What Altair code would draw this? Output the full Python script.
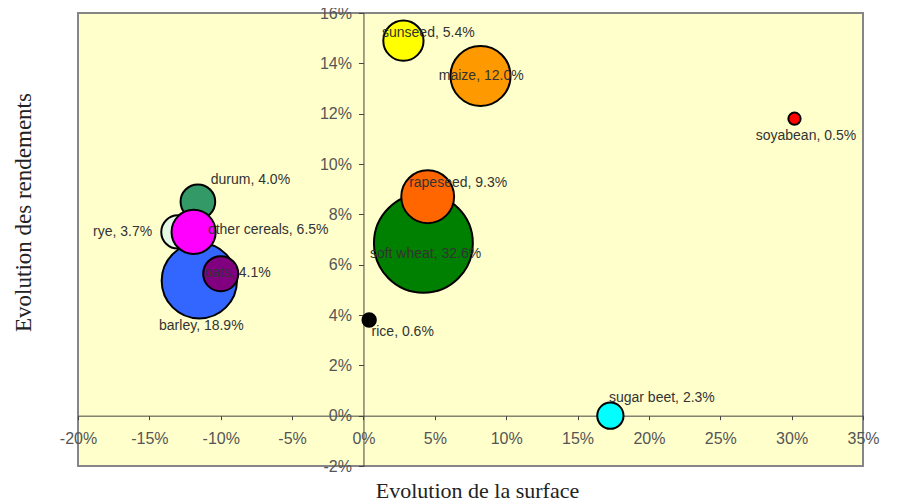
import altair as alt
import pandas as pd

# ---- data ----
crops = ["soft wheat", "rapeseed", "barley", "durum", "rye", "other cereals",
         "oats", "maize", "sunseed", "sugar beet", "rice", "soyabean"]
share = [32.6, 9.3, 18.9, 4.0, 3.7, 6.5, 4.1, 12.0, 5.4, 2.3, 0.6, 0.5]
surface = [4.2, 4.5, -11.5, -11.6, -13.0, -11.9, -10.0, 8.2, 2.8, 17.3, 0.4, 30.2]
yields = [6.85, 8.7, 5.36, 8.5, 7.3, 7.3, 5.64, 13.5, 14.9, 0.0, 3.8, 11.8]
colors = ["#008000", "#FF6600", "#3366FF", "#339966", "#E4F8E4", "#FF00FF",
          "#800080", "#FF9900", "#FFFF00", "#00FFFF", "#000000", "#FF0000"]

# label anchors (data units) and alignment
lab_x = [4.35, 3.2, -11.36, -10.7, -14.8, -10.9, -6.5, 8.25, 1.3, 17.2, 0.57, 31.0]
lab_y = [6.44, 9.25, 3.55, 9.36, 7.3, 7.36, 5.68, 13.5, 15.2, 0.7, 3.32, 11.1]
lab_align = ["center", "left", "center", "left", "right", "left", "right",
             "center", "left", "left", "left", "center"]

x_ticks = [-20, -15, -10, -5, 0, 5, 10, 15, 20, 25, 30, 35]
y_ticks = [-2, 0, 2, 4, 6, 8, 10, 12, 14, 16]

df = pd.DataFrame({
    "crop": crops, "share": share, "surface": surface, "yield": yields,
    "lx": lab_x, "ly": lab_y, "align": lab_align,
})
df["label"] = [f"{c}, {s:.1f}%" for c, s in zip(crops, share)]

W, H = 785, 453
XD = [-20, 35]
YD = [-2, 16]
x_zero = W * (0 - XD[0]) / (XD[1] - XD[0])
y_zero = H * (YD[1] - 0) / (YD[1] - YD[0])

xscale = alt.Scale(domain=XD, nice=False, zero=False)
yscale = alt.Scale(domain=YD, nice=False, zero=False)

lab_font = "Liberation Sans"

x_axis = alt.Axis(
    values=x_ticks, labelExpr="datum.value + '%'",
    orient="bottom", offset=-(H - y_zero), grid=False,
    domainColor="#444", tickColor="#444", tickSize=4, labelPadding=11,
    labelFont=lab_font, labelFontSize=16, labelColor="#555",
    labelOverlap=False, labelFlush=False,
    title="Evolution de la surface", titleFont="Liberation Serif",
    titleFontSize=22, titleFontWeight="normal", titleColor="#222",
    titleX=399, titleY=75, titleAlign="center", titleBaseline="middle",
    titleAnchor="start",
)
y_axis = alt.Axis(
    values=y_ticks, labelExpr="datum.value + '%'",
    orient="left", offset=-x_zero, grid=False,
    domainColor="#444", tickColor="#444", tickSize=5, labelPadding=7,
    labelFont=lab_font, labelFontSize=16, labelColor="#555",
    labelOverlap=False, labelFlush=False,
    title="Evolution des rendements", titleFont="Liberation Serif",
    titleFontSize=23, titleFontWeight="normal", titleColor="#222",
    titleX=23 - (78 + x_zero), titleY=199, titleAngle=270,
    titleAlign="center", titleBaseline="middle", titleAnchor="start",
)

base = alt.Chart(df)

bubbles = base.mark_circle(stroke="black", strokeWidth=2, opacity=1).encode(
    x=alt.X("surface:Q", scale=xscale, axis=x_axis),
    y=alt.Y("yield:Q", scale=yscale, axis=y_axis),
    size=alt.Size("share:Q", scale=alt.Scale(domain=[0, 35], range=[0, 300 * 35]),
                  legend=None),
    color=alt.Color("crop:N", scale=alt.Scale(domain=crops, range=colors),
                    legend=None),
)

labels = []
for al in ["left", "center", "right"]:
    labels.append(
        base.transform_filter(alt.datum.align == al)
        .mark_text(align=al, baseline="middle", font=lab_font, fontSize=14,
                   color="#333")
        .encode(
            x=alt.X("lx:Q", scale=xscale),
            y=alt.Y("ly:Q", scale=yscale),
            text="label:N",
        )
    )

chart = alt.layer(bubbles, *labels).properties(
    width=W, height=H,
    autosize=alt.AutoSizeParams(type="none"),
    padding={"left": 70, "top": 5, "right": 30, "bottom": 37},
    view=alt.ViewBackground(fill="#FFFFCC", stroke="#868686", strokeWidth=2),
).configure_view(
    fill="#FFFFCC", stroke="#868686", strokeWidth=2
).configure(background="white")

chart.save("out.html", embed_options={"renderer": "svg", "actions": False})
